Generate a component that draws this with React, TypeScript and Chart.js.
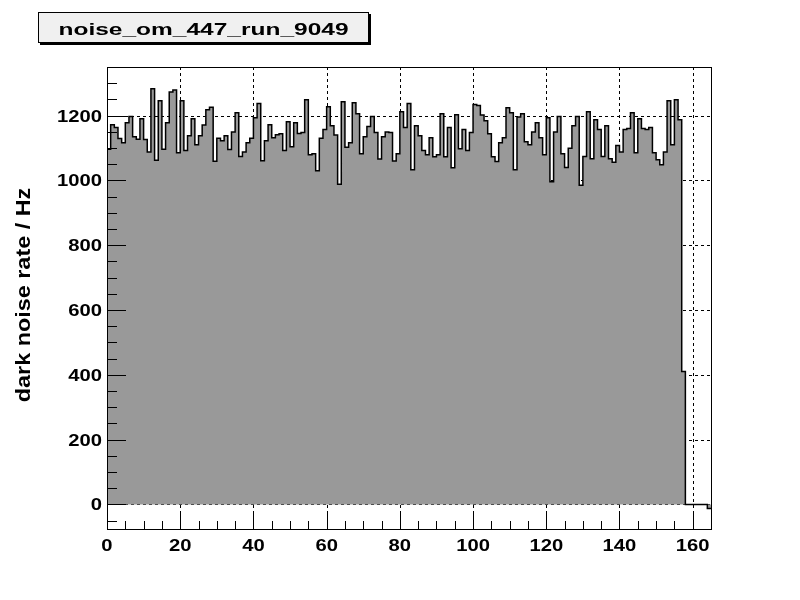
import React, { useEffect, useRef } from 'react';
import { Chart, registerables } from 'chart.js';

Chart.register(...registerables);

// ---- data ----
const histTitle = 'noise_om_447_run_9049';
const yAxisTitle = 'dark noise rate / Hz';
const xMin = 0;
const xMax = 165;
const binWidth = 1;
const yMin = -76;
const yMax = 1350;
const xMajorStep = 20;
const xMinorStep = 5;
const yMajorStep = 200;
const yMinorStep = 50;
const xTickLabels = [0, 20, 40, 60, 80, 100, 120, 140, 160];
const yTickLabels = [0, 200, 400, 600, 800, 1000, 1200];

// dark noise rate per bin (bins 0..164)
const rates: number[] = [
  1096, 1172, 1163, 1129, 1116, 1178, 1197, 1135, 1127, 1190,
  1126, 1088, 1283, 1062, 1246, 1096, 1178, 1273, 1279, 1085,
  1246, 1092, 1138, 1190, 1110, 1138, 1171, 1218, 1226, 1059,
  1130, 1122, 1138, 1095, 1149, 1209, 1074, 1088, 1116, 1130,
  1193, 1237, 1061, 1122, 1172, 1132, 1141, 1144, 1092, 1181,
  1104, 1178, 1145, 1148, 1249, 1079, 1082, 1030, 1130, 1157,
  1227, 1169, 1140, 988, 1243, 1102, 1116, 1240, 1206, 1082,
  1135, 1166, 1197, 1148, 1066, 1135, 1149, 1148, 1060, 1082,
  1212, 1163, 1237, 1033, 1169, 1138, 1092, 1079, 1132, 1073,
  1079, 1206, 1073, 1163, 1039, 1203, 1098, 1157, 1092, 1148,
  1234, 1231, 1202, 1184, 1144, 1073, 1058, 1116, 1132, 1224,
  1209, 1033, 1196, 1206, 1119, 1110, 1149, 1178, 1132, 1079,
  1193, 996, 1149, 1197, 1082, 1040, 1099, 1169, 1197, 985,
  1074, 1212, 1067, 1187, 1157, 1074, 1169, 1067, 1056, 1108,
  1088, 1157, 1160, 1209, 1085, 1190, 1160, 1157, 1163, 1085,
  1064, 1048, 1088, 1246, 1110, 1249, 1187, 410, 0, 0,
  0, 0, 0, 0, -13,
];

const FONT = '"Liberation Sans", Arial, sans-serif';
const STRETCH = 1.19;
const frame = { left: 107, top: 67, right: 711, bottom: 529 };

function drawText(ctx: CanvasRenderingContext2D, text: string, x: number, y: number,
  size: number, align: CanvasTextAlign, stretch: number, rotate = 0) {
  ctx.save();
  ctx.font = `bold ${size}px ${FONT}`;
  ctx.fillStyle = '#000';
  ctx.textAlign = align;
  ctx.textBaseline = 'alphabetic';
  ctx.translate(x, y);
  if (rotate) ctx.rotate(rotate);
  ctx.scale(stretch, 1);
  ctx.fillText(text, 0, 0);
  ctx.restore();
}

const rootStyle = {
  id: 'rootStyle',
  beforeDatasetsDraw(chart: any) {
    const { ctx, chartArea: a, scales } = chart;
    const x = scales.x;
    const y = scales.y;
    ctx.save();
    ctx.strokeStyle = '#000';
    ctx.lineWidth = 1;
    ctx.setLineDash([3, 3]);
    ctx.beginPath();
    for (const v of xTickLabels) {
      const px = Math.round(x.getPixelForValue(v)) + 0.5;
      if (px <= a.left + 1 || px >= a.right - 1) continue;
      ctx.moveTo(px, a.top);
      ctx.lineTo(px, a.bottom);
    }
    for (const v of yTickLabels) {
      const py = Math.round(y.getPixelForValue(v)) + 0.5;
      if (py <= a.top + 1 || py >= a.bottom - 1) continue;
      ctx.moveTo(a.left, py);
      ctx.lineTo(a.right, py);
    }
    ctx.stroke();
    ctx.restore();
  },
  afterDatasetsDraw(chart: any) {
    const { ctx, chartArea: a, scales } = chart;
    const x = scales.x;
    const y = scales.y;
    ctx.save();
    ctx.strokeStyle = '#000';
    ctx.lineWidth = 1;
    ctx.setLineDash([]);
    ctx.beginPath();
    for (let v = Math.ceil(xMin / xMinorStep) * xMinorStep; v <= xMax; v += xMinorStep) {
      const px = Math.round(x.getPixelForValue(v)) + 0.5;
      const len = v % xMajorStep === 0 ? 15 : 8;
      ctx.moveTo(px, a.bottom);
      ctx.lineTo(px, a.bottom - len);
    }
    for (let v = Math.ceil(yMin / yMinorStep) * yMinorStep; v <= yMax; v += yMinorStep) {
      const py = Math.round(y.getPixelForValue(v)) + 0.5;
      const len = v % yMajorStep === 0 ? 19 : 10;
      ctx.moveTo(a.left, py);
      ctx.lineTo(a.left + len, py);
    }
    ctx.stroke();
    ctx.strokeRect(Math.round(a.left) + 0.5, Math.round(a.top) + 0.5,
      Math.round(a.right - a.left), Math.round(a.bottom - a.top));
    ctx.restore();

    // tick labels
    for (const v of xTickLabels) {
      drawText(ctx, String(v), x.getPixelForValue(v), a.bottom + 22, 17, 'center', STRETCH);
    }
    for (const v of yTickLabels) {
      drawText(ctx, String(v), a.left - 5, y.getPixelForValue(v) + 6, 17, 'right', STRETCH);
    }
    // axis title
    drawText(ctx, yAxisTitle, 29.5, (a.top + a.bottom) / 2 - 3, 19.5, 'center', 1.2, -Math.PI / 2);
  },
  afterDraw(chart: any) {
    const { ctx } = chart;
    const bx = 38, by = 12, bw = 331, bh = 31;
    ctx.save();
    ctx.fillStyle = '#000';
    ctx.fillRect(bx + 2, by + 2, bw, bh);
    ctx.fillStyle = '#f0f0f0';
    ctx.fillRect(bx, by, bw, bh);
    ctx.strokeStyle = '#000';
    ctx.lineWidth = 1;
    ctx.strokeRect(bx + 0.5, by + 0.5, bw - 1, bh - 1);
    ctx.font = `bold 17px ${FONT}`;
    const w = ctx.measureText(histTitle).width;
    ctx.restore();
    drawText(ctx, histTitle, bx + bw / 2, 35, 17, 'center', 290 / w);
  },
};

export default function App() {
  const canvasRef = useRef<HTMLCanvasElement | null>(null);

  useEffect(() => {
    document.body.style.margin = '0';
    const canvas = canvasRef.current;
    if (!canvas) return;
    const points = rates.flatMap((v, i) => [
      { x: xMin + i * binWidth, y: v },
      { x: xMin + (i + 1) * binWidth, y: v },
    ]);
    const chart = new Chart(canvas, {
      type: 'line',
      data: {
        datasets: [
          {
            data: points,
            borderColor: '#000',
            borderWidth: 1.5,
            backgroundColor: '#999999',
            pointRadius: 0,
            tension: 0,
            fill: { target: { value: 0 }, above: '#999999', below: '#999999' },
          } as any,
        ],
      },
      options: {
        responsive: false,
        animation: false,
        devicePixelRatio: 1,
        layout: { padding: { left: 0, top: frame.top, right: 800 - frame.right, bottom: 0 } },
        plugins: { legend: { display: false }, tooltip: { enabled: false }, title: { display: false } },
        scales: {
          x: {
            type: 'linear',
            min: xMin,
            max: xMax,
            afterFit: (s: any) => { s.height = 600 - frame.bottom; },
            grid: { display: false, drawTicks: false },
            border: { display: false },
            ticks: { display: false },
          },
          y: {
            type: 'linear',
            min: yMin,
            max: yMax,
            afterFit: (s: any) => { s.width = frame.left; },
            grid: { display: false, drawTicks: false },
            border: { display: false },
            ticks: { display: false },
          },
        },
      },
      plugins: [rootStyle],
    });
    return () => chart.destroy();
  }, []);

  return (
    <div style={{ position: 'absolute', left: 0, top: 0, width: 800, height: 600, background: '#fff' }}>
      <canvas ref={canvasRef} width={800} height={600} />
    </div>
  );
}
